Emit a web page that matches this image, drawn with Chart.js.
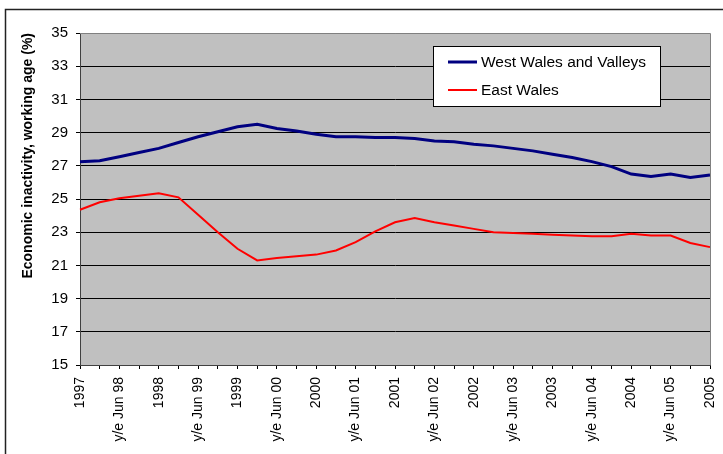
<!DOCTYPE html>
<html lang="en">
<head>
    <meta charset="UTF-8">
    <title>Economic inactivity - Wales</title>
    <script src="https://cdn.jsdelivr.net/npm/chart.js"></script>
    <style>
        body {
            margin: 0;
            background-color: white;
        }
        canvas {
            display: block;
        }
    </style>
</head>
<body>
<canvas id="inactivityChart" width="723" height="454"></canvas>

<script>
    // Quarterly points, every other one labelled
    const categories = [
        '1997', '', 'y/e Jun 98', '', '1998', '', 'y/e Jun 99', '', '1999', '',
        'y/e Jun 00', '', '2000', '', 'y/e Jun 01', '', '2001', '', 'y/e Jun 02', '',
        '2002', '', 'y/e Jun 03', '', '2003', '', 'y/e Jun 04', '', '2004', '',
        'y/e Jun 05', '', '2005'
    ];
    const westWales = [
        27.25, 27.3, 27.55, 27.8, 28.05, 28.4, 28.75, 29.05, 29.35, 29.5,
        29.25, 29.1, 28.9, 28.75, 28.75, 28.7, 28.7, 28.65, 28.5, 28.45,
        28.3, 28.2, 28.05, 27.9, 27.7, 27.5, 27.25, 26.95, 26.5, 26.35,
        26.5, 26.3, 26.45
    ];
    const eastWales = [
        24.35, 24.8, 25.05, 25.2, 25.35, 25.1, 24.05, 23.0, 22.0, 21.3,
        21.45, 21.55, 21.65, 21.9, 22.4, 23.05, 23.6, 23.85, 23.6, 23.4,
        23.2, 23.0, 22.95, 22.9, 22.85, 22.8, 22.75, 22.75, 22.9, 22.8,
        22.8, 22.35, 22.1
    ];
    const seriesNames = ['West Wales and Valleys', 'East Wales'];
    const yMin = 15, yMax = 35, yStep = 2;

    Chart.defaults.font.family = 'Arial, "Liberation Sans", sans-serif';
    Chart.defaults.color = '#000';

    // grey plot area + frame + legend box drawn on the canvas
    const excelLook = {
        id: 'excelLook',
        beforeDraw(chart) {
            const ctx = chart.ctx;
            const a = chart.chartArea;
            ctx.save();
            ctx.fillStyle = '#fff';
            ctx.fillRect(0, 0, chart.width, chart.height);
            ctx.fillStyle = '#C0C0C0';
            ctx.fillRect(a.left, a.top, a.right - a.left, a.bottom - a.top);
            ctx.restore();
        },
        afterDraw(chart) {
            const ctx = chart.ctx;
            const a = chart.chartArea;
            ctx.save();
            // top/right edge of plot area
            ctx.strokeStyle = '#808080';
            ctx.lineWidth = 1;
            ctx.beginPath();
            ctx.moveTo(a.left, a.top + 0.5);
            ctx.lineTo(a.right + 0.5, a.top + 0.5);
            ctx.lineTo(a.right + 0.5, a.bottom);
            ctx.stroke();

            // outer chart frame (runs off the right and bottom)
            ctx.strokeStyle = '#222';
            ctx.lineWidth = 1.5;
            ctx.beginPath();
            ctx.moveTo(chart.width + 2, 9.5);
            ctx.lineTo(5.5, 9.5);
            ctx.lineTo(5.5, chart.height + 2);
            ctx.stroke();

            // legend
            const bx = 433.5, by = 46.5, bw = 227, bh = 60;
            ctx.fillStyle = '#fff';
            ctx.fillRect(bx, by, bw, bh);
            ctx.strokeStyle = '#000';
            ctx.lineWidth = 1;
            ctx.strokeRect(bx, by, bw, bh);
            ctx.font = '15.5px Arial, "Liberation Sans", sans-serif';
            ctx.textBaseline = 'middle';
            ctx.textAlign = 'left';
            chart.data.datasets.forEach((ds, i) => {
                const ly = 62 + i * 28;
                ctx.strokeStyle = ds.borderColor;
                ctx.lineWidth = ds.borderWidth;
                ctx.beginPath();
                ctx.moveTo(448, ly);
                ctx.lineTo(477, ly);
                ctx.stroke();
                ctx.fillStyle = '#000';
                ctx.fillText(ds.label, 481, ly + 1);
            });
            ctx.restore();
        }
    };

    const chartCtx = document.getElementById('inactivityChart').getContext('2d');
    new Chart(chartCtx, {
        type: 'line',
        data: {
            labels: categories,
            datasets: [
                {
                    label: seriesNames[0],
                    data: westWales,
                    borderColor: '#000080',
                    borderWidth: 3,
                    pointRadius: 0,
                    tension: 0,
                    fill: false
                },
                {
                    label: seriesNames[1],
                    data: eastWales,
                    borderColor: '#FF0000',
                    borderWidth: 2,
                    pointRadius: 0,
                    tension: 0,
                    fill: false
                }
            ]
        },
        options: {
            responsive: false,
            animation: false,
            layout: {
                padding: { top: 33, right: 13, left: 0, bottom: 0 }
            },
            plugins: {
                legend: { display: false },
                tooltip: { enabled: false }
            },
            scales: {
                x: {
                    type: 'category',
                    offset: false,
                    afterFit(scale) {
                        scale.height = 89;
                        scale.paddingLeft = 0;
                        scale.paddingRight = 0;
                    },
                    border: { color: '#404040', width: 1 },
                    grid: {
                        drawOnChartArea: false,
                        drawTicks: true,
                        tickLength: 4,
                        color: '#000'
                    },
                    ticks: {
                        autoSkip: false,
                        minRotation: 90,
                        maxRotation: 90,
                        padding: 8,
                        font: { size: 14 },
                        color: '#000'
                    }
                },
                y: {
                    min: yMin,
                    max: yMax,
                    afterFit(scale) {
                        scale.width = 80;
                        scale.paddingTop = 0;
                        scale.paddingBottom = 0;
                    },
                    border: { color: '#404040', width: 1 },
                    grid: {
                        color: (c) => (c.tick && c.tick.value === yMax ? '#808080' : '#000'),
                        tickColor: '#000',
                        tickLength: 4,
                        lineWidth: 1
                    },
                    ticks: {
                        stepSize: yStep,
                        padding: 8,
                        font: { size: 15 },
                        color: '#000'
                    },
                    title: {
                        display: true,
                        text: 'Economic inactivity, working age (%)',
                        align: 'end',
                        padding: { top: 20, bottom: 0 },
                        font: { size: 14, weight: 'bold' },
                        color: '#000'
                    }
                }
            }
        },
        plugins: [excelLook]
    });
</script>
</body>
</html>
